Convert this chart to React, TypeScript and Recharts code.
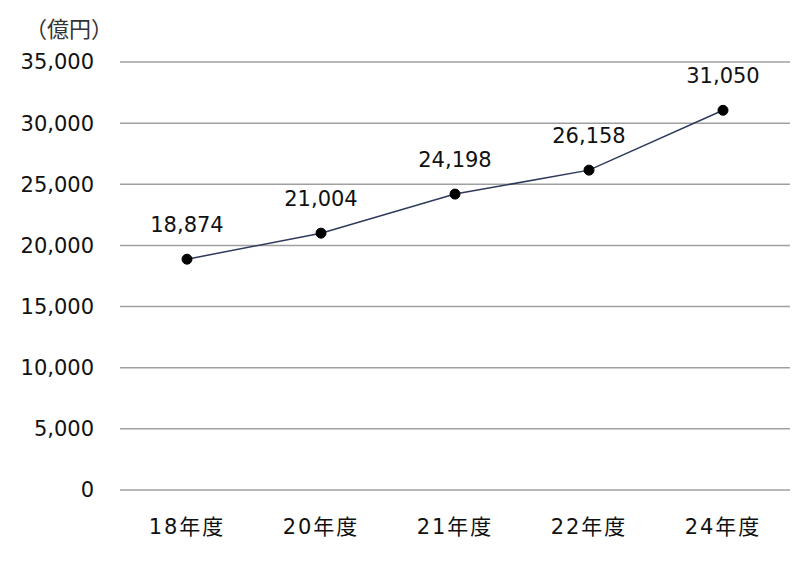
import React from "react";
import { LineChart, Line, XAxis, YAxis, CartesianGrid, LabelList } from "recharts";

const categories = ["18年度", "20年度", "21年度", "22年度", "24年度"];
const values = [18874, 21004, 24198, 26158, 31050];
const yTicks = [0, 5000, 10000, 15000, 20000, 25000, 30000, 35000];

const data = categories.map((c, i) => ({ name: c, value: values[i] }));

const FONT = '"DejaVu Sans", "Noto Sans CJK JP", sans-serif';
const fmt = (v: number) => v.toLocaleString("en-US");

export default function App() {
  return (
    <div style={{ position: "absolute", left: 0, top: 0, width: 792, height: 566, background: "#fff", fontFamily: FONT }}>
      <div
        style={{
          position: "absolute",
          left: 36,
          top: 14,
          fontSize: 22,
          lineHeight: "26px",
          color: "#333",
          fontFamily: '"Noto Sans CJK JP", sans-serif',
          fontFeatureSettings: '"halt"',
          whiteSpace: "nowrap",
        }}
      >
        （億円）
      </div>
      <LineChart width={792} height={566} data={data} margin={{ top: 62, right: 2, bottom: 0, left: 0 }}>
        <CartesianGrid vertical={false} stroke="#a0a0a0" strokeWidth={1.5} />
        <XAxis
          dataKey="name"
          height={76}
          padding={{ left: 67, right: 67 }}
          axisLine={false}
          tickLine={false}
          tickSize={0}
          tickMargin={29}
          tick={{ fill: "#111", fontSize: 21, fontFamily: FONT, letterSpacing: 2 }}
        />
        <YAxis
          domain={[0, 35000]}
          ticks={yTicks}
          width={120}
          axisLine={false}
          tickLine={false}
          tickSize={0}
          tickMargin={26}
          tickFormatter={fmt}
          tick={{ fill: "#111", fontSize: 21, fontFamily: FONT }}
        />
        <Line
          type="linear"
          dataKey="value"
          stroke="#2e3a5c"
          strokeWidth={1.5}
          dot={{ r: 5, fill: "#000", stroke: "#000", strokeWidth: 1 }}
          isAnimationActive={false}
        >
          <LabelList
            dataKey="value"
            position="top"
            offset={27}
            formatter={(v: any) => fmt(Number(v))}
            style={{ fill: "#111", fontSize: 21, fontFamily: FONT }}
          />
        </Line>
      </LineChart>
    </div>
  );
}
